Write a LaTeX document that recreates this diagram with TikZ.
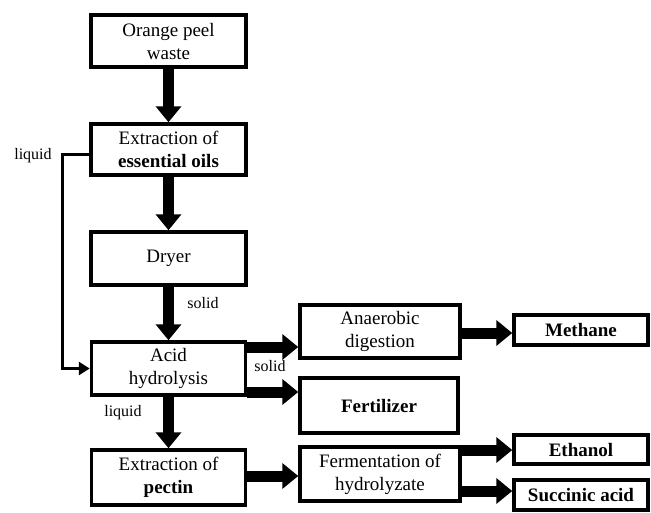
\documentclass[tikz,border=0pt]{standalone}
\usepackage{fontspec}
\setmainfont{Liberation Serif}
\usetikzlibrary{arrows.meta}
\tikzset{
  box/.style={draw, line width=3.5pt, align=center, inner sep=0pt,
    font=\fontsize{19}{23}\selectfont},
  fat/.style={line width=11pt, -{Triangle[length=16pt,width=25pt]}},
  thinarrow/.style={line width=3pt, -{Triangle[length=11pt,width=13pt]}},
  lbl/.style={font=\fontsize{16}{19}\selectfont, inner sep=0pt}
}
\begin{document}
\begin{tikzpicture}[x=1pt,y=-1pt]
\useasboundingbox (0,0) rectangle (651,512);
% boxes
\node[box, minimum width=155pt, minimum height=52pt] (n1) at (168.5,41) {Orange peel\\waste};
\node[box, minimum width=155pt, minimum height=51pt] (n2) at (168.5,149.5) {Extraction of\\\textbf{essential oils}};
\node[box, minimum width=155pt, minimum height=53pt] (n3) at (168.5,258.5) {\raisebox{5pt}{Dryer}};
\node[box, minimum width=154pt, minimum height=53pt] (n4) at (168.5,368.5) {Acid\\hydrolysis};
\node[box, minimum width=154pt, minimum height=55pt] (n5) at (168.5,477.5) {Extraction of\\\textbf{pectin}};
\node[box, minimum width=160pt, minimum height=53pt] (n6) at (380,331.5) {Anaerobic\\digestion};
\node[box, minimum width=158pt, minimum height=55pt] (n7) at (379,405.5) {\textbf{Fertilizer}};
\node[box, minimum width=160pt, minimum height=54pt] (n8) at (380,474) {Fermentation of\\hydrolyzate};
\node[box, minimum width=134pt, minimum height=30pt] (n9) at (581,330) {\textbf{Methane}};
\node[box, minimum width=134pt, minimum height=29pt] (n10) at (581,449.5) {\textbf{Ethanol}};
\node[box, minimum width=134pt, minimum height=30pt] (n11) at (581,495) {\textbf{Succinic acid}};
% helper coordinates
\coordinate (c1) at (62,154);
\coordinate (ya) at (0,347);
\coordinate (yb) at (0,392);
\coordinate (yc) at (0,333);
\coordinate (yd) at (0,476);
\coordinate (ye) at (0,450);
\coordinate (yf) at (0,491);
% main vertical arrows
\draw[fat] (n1.south) -- (n2.north);
\draw[fat] (n2.south) -- (n3.north);
\draw[fat] (n3.south) -- (n4.north);
\draw[fat] (n4.south) -- (n5.north);
% liquid bypass
\draw[thinarrow] (n2.west |- c1) -- (c1) |- (n4.west);
% branches
\draw[fat] (n4.east |- ya) -- (n6.west |- ya);
\draw[fat] (n4.east |- yb) -- (n7.west |- yb);
\draw[fat] (n6.east |- yc) -- (n9.west |- yc);
\draw[fat] (n5.east |- yd) -- (n8.west |- yd);
\draw[fat] (n8.east |- ye) -- (n10.west |- ye);
\draw[fat] (n8.east |- yf) -- (n11.west |- yf);
% labels
\node[lbl] (l1) at (33,156) {liquid};
\node[lbl] (l2) at (203,303) {solid};
\node[lbl] (l3) at (270,366) {solid};
\node[lbl] (l4) at (123,413) {liquid};
\end{tikzpicture}
\end{document}
